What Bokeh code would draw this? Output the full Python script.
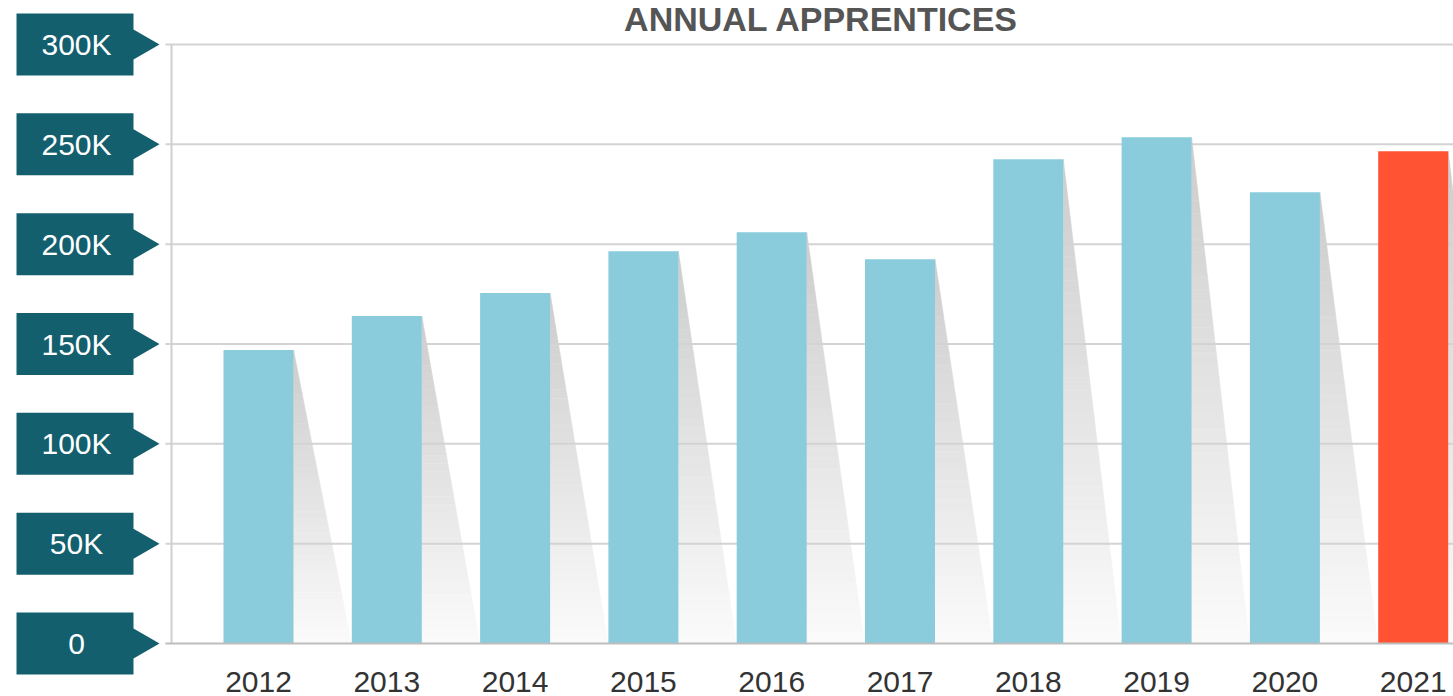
from bokeh.plotting import figure
from bokeh.models import Range1d
from bokeh.core.properties import value
from bokeh.embed import file_html
from bokeh.resources import INLINE

# ---- data ----
years = [2012, 2013, 2014, 2015, 2016, 2017, 2018, 2019, 2020, 2021]
apprentices = [147000, 164000, 175500, 196500, 206000, 192500, 242500, 253500, 226000, 246500]
tick_values = [0, 50000, 100000, 150000, 200000, 250000, 300000]
tick_labels = ["0", "50K", "100K", "150K", "200K", "250K", "300K"]
title_text = "ANNUAL APPRENTICES"

# ---- layout mapping (page px -> data) ----
W, H = 1453, 696
S = 128.3            # px per year
K = 599.0 / 300000   # px per unit value
x_start = 2012 - 258 / S
x_end = x_start + W / S
y_end = 643 / K
y_start = -(H - 643) / K


def X(px):
    return x_start + px / S


def Y(py):
    return (643 - py) / K


p = figure(width=W, height=H, output_backend="svg", toolbar_location=None,
           x_range=Range1d(x_start, x_end), y_range=Range1d(y_start, y_end),
           x_axis_type=None, y_axis_type=None, min_border=0,
           background_fill_color="white", border_fill_color="white")
p.outline_line_color = None
p.xgrid.visible = False
p.ygrid.visible = False

bar_w = 70 / S
shadow_d = 58 / S


def lerp_color(c1, c2, t):
    r = int(round(c1[0] + (c2[0] - c1[0]) * t))
    g = int(round(c1[1] + (c2[1] - c1[1]) * t))
    b = int(round(c1[2] + (c2[2] - c1[2]) * t))
    return "#%02x%02x%02x" % (r, g, b)


# ---- gradient shadows ----
xs, ys, cols = [], [], []
N = 40
for yr, v in zip(years, apprentices):
    xr = yr + bar_w / 2
    for i in range(N):
        t0, t1 = i / N, (i + 1) / N
        ya, yb = v * (1 - t0), v * (1 - t1)
        xa = xr + shadow_d * t0
        xb = xr + shadow_d * t1
        xs.append([xr, xa, xb, xr])
        ys.append([ya, ya, yb, yb])
        cols.append(lerp_color((204, 204, 204), (251, 251, 251), (t0 + t1) / 2))
p.patches(xs, ys, fill_color=cols, line_color=cols, line_width=0.5)

# ---- gridlines ----
grid_vals = tick_values[1:]
p.segment(x0=[X(165)] * len(grid_vals), y0=grid_vals, x1=[x_end] * len(grid_vals), y1=grid_vals,
          line_color="#d3d3d3", line_width=2)
p.segment(x0=[X(171)], y0=[0], x1=[X(171)], y1=[tick_values[-1]], line_color="#cfcfcf", line_width=2)

# ---- bars ----
colors = ["#8ACBDC"] * (len(years) - 1) + ["#FF5333"]
p.vbar(x=years, top=apprentices, bottom=0, width=bar_w, fill_color=colors, line_color=None)

# baseline
p.segment(x0=[X(165)], y0=[0], x1=[x_end], y1=[0], line_color="#bdbdbd", line_width=2)

# ---- tag labels ----
hh = 31 / K
ah = 15 / K
txs, tys = [], []
for v in tick_values:
    txs.append([X(16), X(133), X(133), X(159), X(133), X(133), X(16)])
    tys.append([v + hh, v + hh, v + ah, v, v - ah, v - hh, v - hh])
p.patches(txs, tys, fill_color="#135F6E", line_color=None)
p.text(x=[X(76)] * len(tick_values), y=tick_values, text=tick_labels,
       text_color="white", text_font=value("Liberation Sans"), text_font_size="30px",
       text_align="center", text_baseline="middle")

# ---- year labels ----
p.text(x=years, y=[Y(681)] * len(years), text=[str(y) for y in years],
       text_color="#333333", text_font=value("Liberation Sans"), text_font_size="30px",
       text_align="center", text_baseline="middle")

# ---- title ----
p.text(x=[X(821)], y=[Y(18)], text=[title_text], text_color="#555555",
       text_font=value("Liberation Sans"), text_font_style="bold", text_font_size="34px",
       text_align="center", text_baseline="middle")

open("out.html", "w").write(file_html(p, INLINE))
